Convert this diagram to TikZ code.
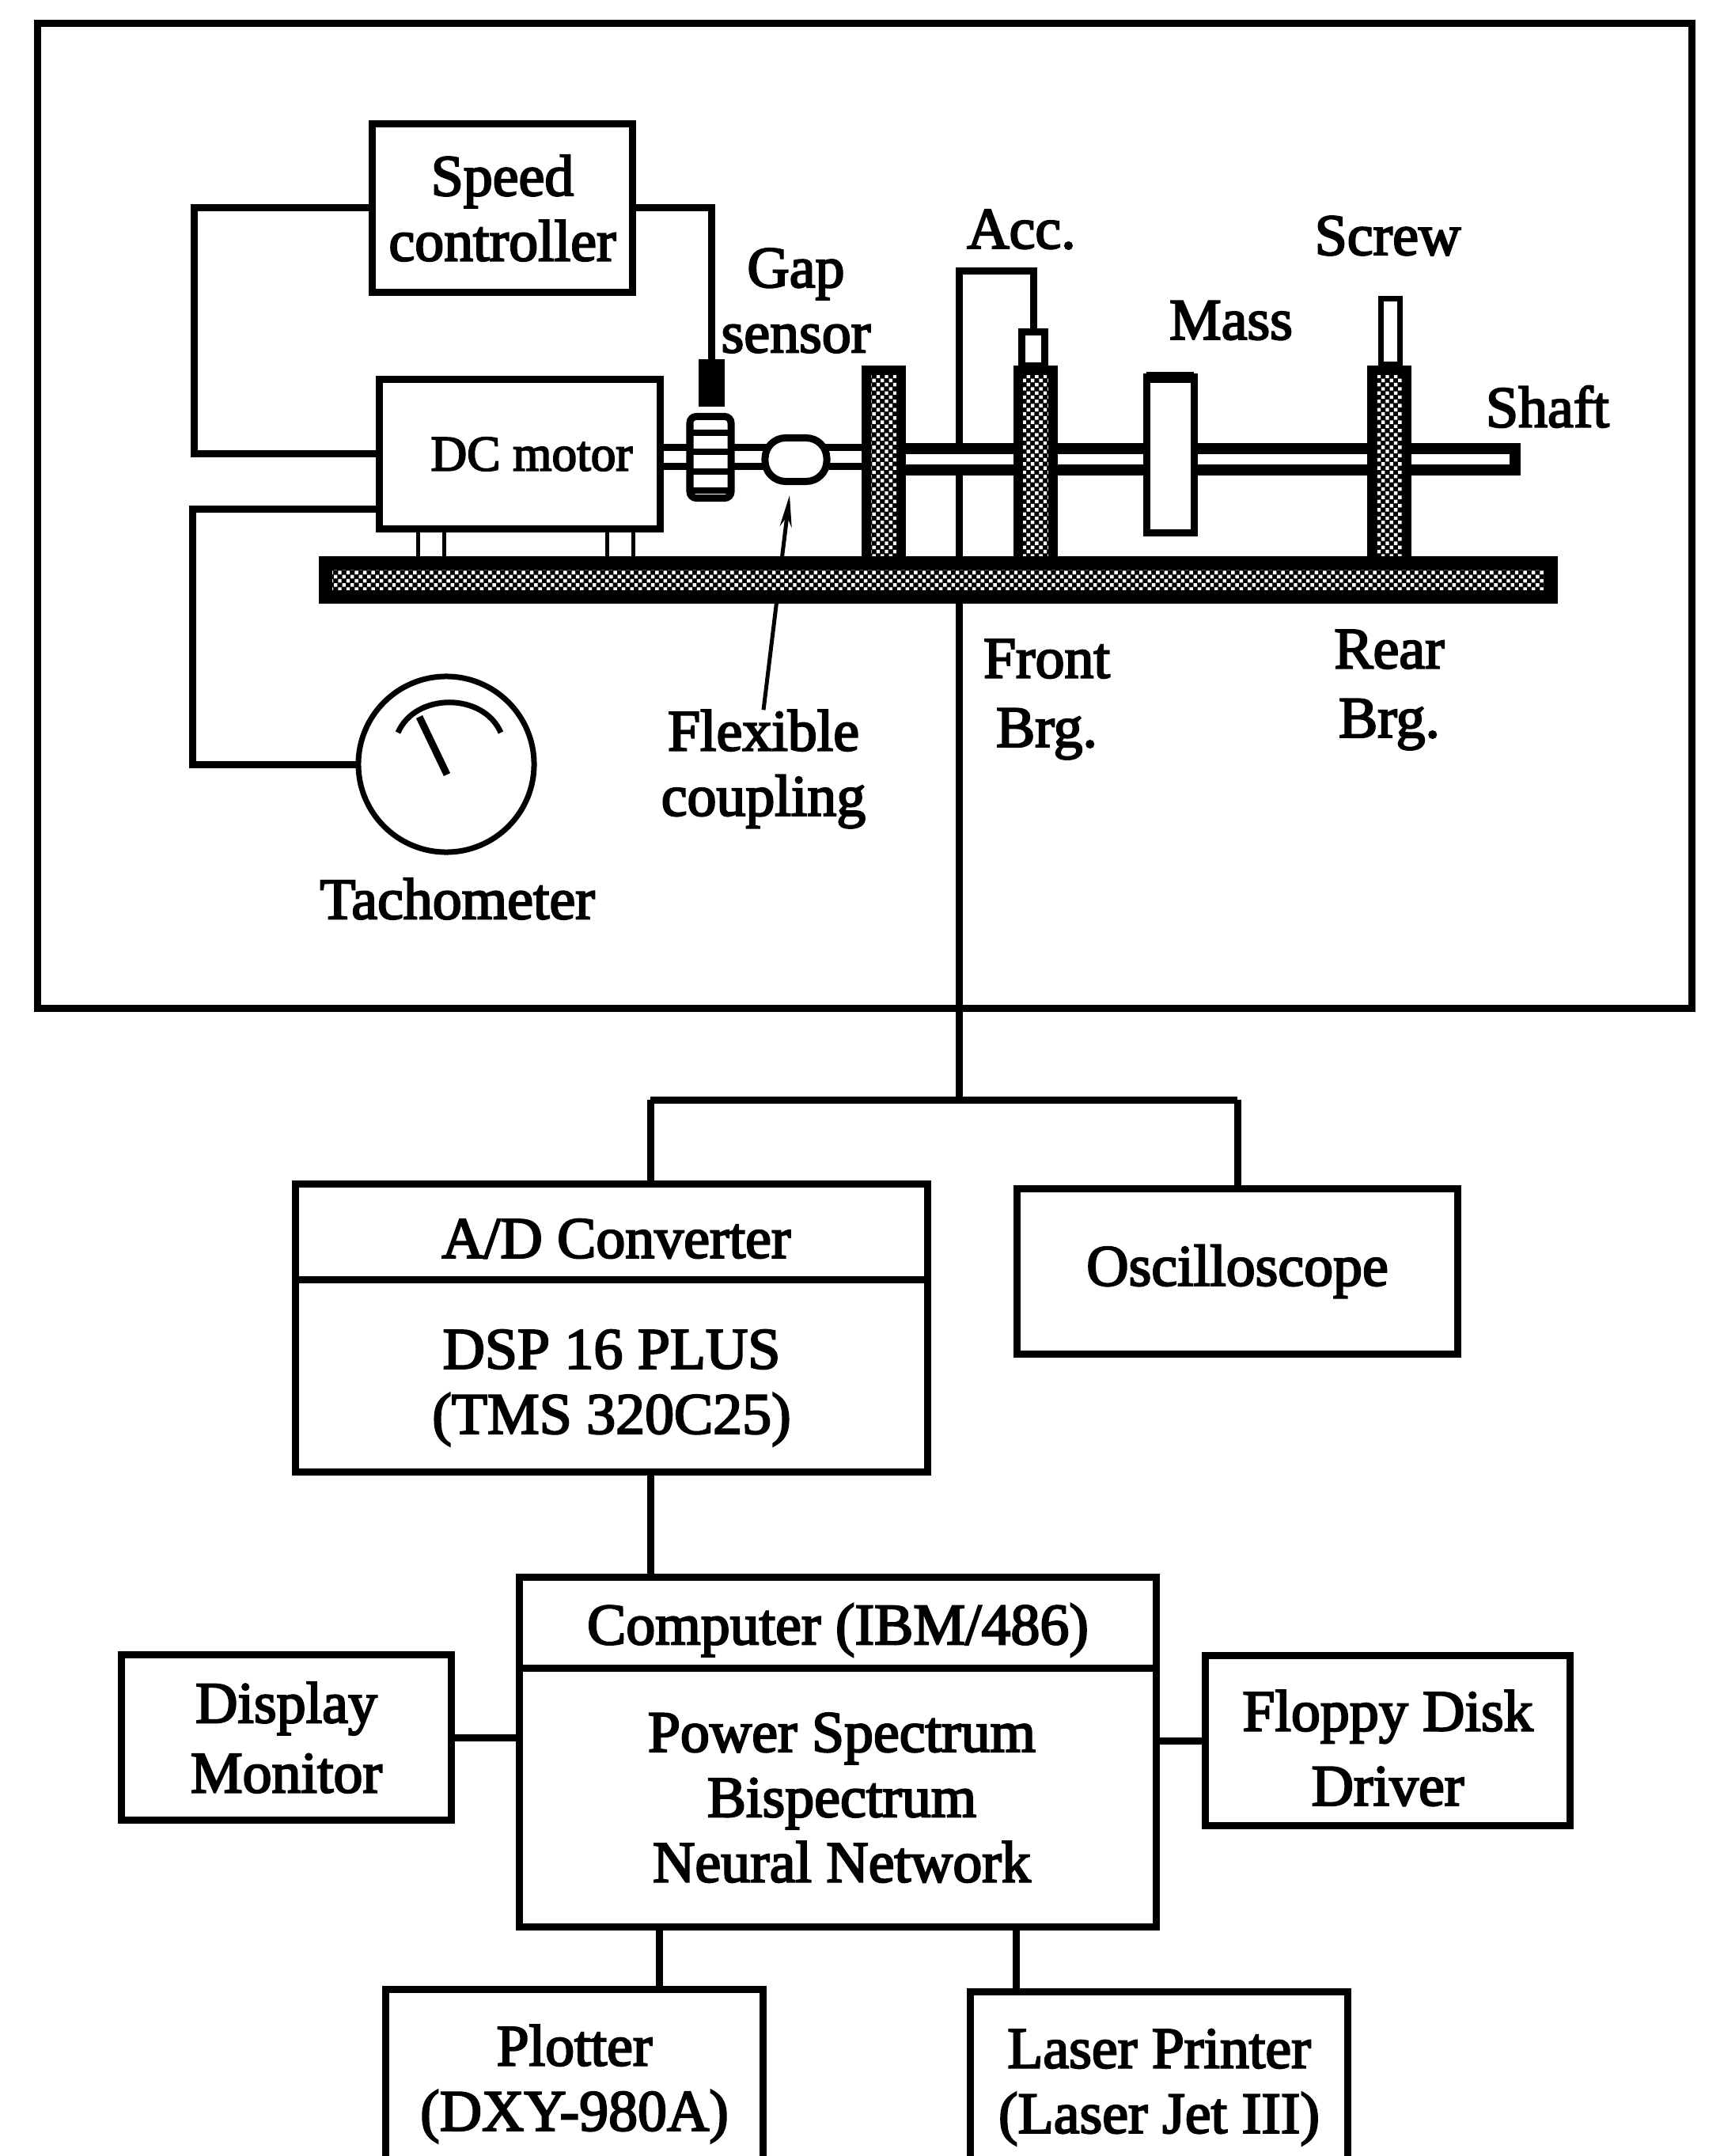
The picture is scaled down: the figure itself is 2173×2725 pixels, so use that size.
\documentclass[tikz,border=0pt]{standalone}
\usepackage{fontspec}
\setmainfont{Liberation Serif}[FakeBold=3]
\usetikzlibrary{arrows.meta,positioning,patterns}
\pgfdeclarepatternformonly{scandots}{\pgfqpoint{-0.1pt}{-0.1pt}}{\pgfqpoint{3.1pt}{3.1pt}}{\pgfqpoint{3pt}{3pt}}{
  \pgfpathrectangle{\pgfqpoint{0pt}{0pt}}{\pgfqpoint{1.25pt}{1.25pt}}
  \pgfpathrectangle{\pgfqpoint{1.5pt}{1.5pt}}{\pgfqpoint{1.25pt}{1.25pt}}
  \pgfusepath{fill}}

\begin{document}
\begin{tikzpicture}[x=0.01cm,y=-0.01cm,line cap=butt,
                    block/.style={draw,line width=0.09cm,fill=white,inner sep=0pt,outer sep=0pt,align=center,
                                  font=\fontsize{21}{23.4}\selectfont},
                    tag/.style={inner sep=0pt,outer sep=0pt,align=center,font=\fontsize{21}{23.4}\selectfont},
                    wire/.style={draw,line width=0.09cm},
                    hatched/.style={draw,line width=0.12cm,inner sep=0pt,outer sep=0pt,
                                    preaction={fill=black},pattern=scandots,pattern color=white},
                    bearing/.style={hatched,minimum width=0.44cm,minimum height=2.43cm}]
  \useasboundingbox (0,0) rectangle (2173,2725);
  \fill[white] (0,0) rectangle (2173,2725);
  \node[block, fill=none, minimum width=20.90cm, minimum height=12.44cm] (Frame) at (1093,652) {};

  \coordinate (accTop) at (1212,343);
  \coordinate (tap)    at (1212,1390);
  \coordinate (busL)   at (822,1390);
  \coordinate (busR)   at (1564,1390);
  \coordinate (leftA)  at (245,400);
  \coordinate (leftB)  at (243,644);
  \coordinate (plotTap)  at (833,2480);
  \coordinate (laserTap) at (1284,2480);
  \coordinate (flexTip)  at (998,626);
  \coordinate (footA) at (528,690);
  \coordinate (footB) at (561,690);
  \coordinate (footC) at (767,690);
  \coordinate (footD) at (800,690);

  \node[block, minimum width=3.29cm, minimum height=2.13cm] (Speed) at (635,263) {Speed\\controller};
  \node[block, minimum width=3.55cm, minimum height=1.89cm, font=\fontsize{18}{20}\selectfont] (Motor) at (657,574) {\hspace{0.3cm}DC motor};
  \node[block, line width=0.07cm, minimum size=2.22cm, circle] (Tach) at (564,966) {};
  \node[block, fill=black, minimum width=0.24cm, minimum height=0.50cm] (Sensor) at (899,484) {};
  \node[block, minimum width=0.29cm, minimum height=0.42cm] (Acc) at (1306,441) {};
  \node[block, minimum width=0.24cm, minimum height=0.82cm, line width=0.07cm] (Screw) at (1757,419) {};

  \draw[wire] (Speed.west) -| (leftA) |- (Motor.west);
  \draw[wire] (Speed.east) -| (Sensor.north);
  \draw[wire] (Tach.west) -| (leftB) -- (leftB -| Motor.west);
  \draw[wire] (Acc.north) |- (accTop) -- (tap);
  \draw[wire] (busL) -- (busR);

  \draw[line width=0.09cm,fill=white] (834,566) rectangle (1100,590);
  \draw[line width=0.14cm,fill=white] (1130,567) rectangle (1915,594);
  \node[block, rounded corners=0.08cm, minimum width=0.52cm, minimum height=1.03cm] (Gear) at (898,578) {};
  \foreach \y in {547,571,596,620} \draw[line width=0.08cm] (870,\y) -- (927,\y);
  \node[block, rounded corners=0.26cm, minimum width=0.78cm, minimum height=0.55cm] (Coupling) at (1006,581) {};

  \node[tag] (Flex) at (965,972) {Flexible\\coupling};
  \draw[line width=0.05cm,-{Stealth[length=0.4cm,width=0.15cm]}] (Flex.north) -- (flexTip);

  \node[bearing] (FrontA) at (1117,590) {};
  \node[bearing] (FrontB) at (1309,590) {};
  \node[bearing] (Rear)   at (1756,590) {};
  \node[block, minimum width=0.60cm, minimum height=1.96cm] (Mass) at (1479,575) {};
  \draw[line width=0.14cm] (Mass.north west) -- (Mass.north east);

  \foreach \f in {footA,footB,footC,footD} \draw[line width=0.05cm] (\f |- Motor.south) -- (\f |- 0,710);

  \node[hatched, line width=0.17cm, minimum width=15.48cm, minimum height=0.42cm] (Base) at (1186,733) {};

  \draw[line width=0.07cm] (503,926) .. controls (525,875) and (611,875) .. (633,926);
  \coordinate (needleTip) at (530,906);
  \coordinate (needleEnd) at (565,979);
  \draw[line width=0.09cm] (needleEnd) -- (needleTip);

  \node[tag] (GapLabel)   at (1006,380) {Gap\\sensor};
  \node[tag] (AccLabel)   at (1291,290) {Acc.};
  \node[tag] (MassLabel)  at (1556,405) {Mass};
  \node[tag] (ScrewLabel) at (1754,298) {Screw};
  \node[tag] (ShaftLabel) at (1956,514) {Shaft};
  \node[tag] (FrontLabel) at (1323,884) {Front\\[0.05cm]Brg.};
  \node[tag] (RearLabel)  at (1756,872) {Rear\\[0.05cm]Brg.};
  \node[tag] (TachLabel)  at (578,1136) {Tachometer};

  \node[block, minimum width=7.99cm, minimum height=1.20cm] (ADC) at (773,1557) {\hspace{0.12cm}\rule{0pt}{0.66cm}A/D Converter};
  \node[block, minimum width=7.99cm, minimum height=2.43cm, below=0pt of ADC] (DSP) {\rule{0pt}{0.80cm}DSP 16 PLUS\\(TMS 320C25)};
  \node[block, minimum width=5.57cm, minimum height=2.08cm] (Scope) at (1564,1607) {Oscilloscope};
  \draw[wire] (ADC.north -| busL) -- (busL);
  \draw[wire] (Scope.north -| busR) -- (busR);

  \node[block, minimum width=8.04cm, minimum height=1.15cm] (Computer) at (1059,2051) {\rule{0pt}{0.70cm}Computer (IBM/486)};
  \node[block, minimum width=8.04cm, minimum height=3.27cm, below=0pt of Computer] (Spectra) {\hspace{0.1cm}Power Spectrum\\\hspace{0.1cm}Bispectrum\\\hspace{0.1cm}Neural Network};
  \node[block, minimum width=4.16cm, minimum height=2.09cm] (Display) at (362,2196) {Display\\[0.06cm]Monitor};
  \node[block, minimum width=4.61cm, minimum height=2.14cm] (Floppy) at (1754,2200) {\rule{0pt}{0.70cm}Floppy Disk\\[0.12cm]Driver};
  \node[block, minimum width=4.76cm, minimum height=2.30cm] (Plotter) at (726,2630) {\rule{0pt}{0.59cm}Plotter\\(DXY-980A)};
  \node[block, minimum width=4.76cm, minimum height=2.30cm] (Laser) at (1465,2633) {\rule{0pt}{0.59cm}Laser Printer\\(Laser Jet III)};

  \path[wire]
    (DSP.south -| busL) edge (Computer.north -| busL)
    (Display.east) edge (Display.east -| Spectra.west)
    (Floppy.west) edge (Floppy.west -| Spectra.east)
    (Spectra.south -| plotTap) edge (Plotter.north -| plotTap)
    (Spectra.south -| laserTap) edge (Laser.north -| laserTap);
\end{tikzpicture}
\end{document}
